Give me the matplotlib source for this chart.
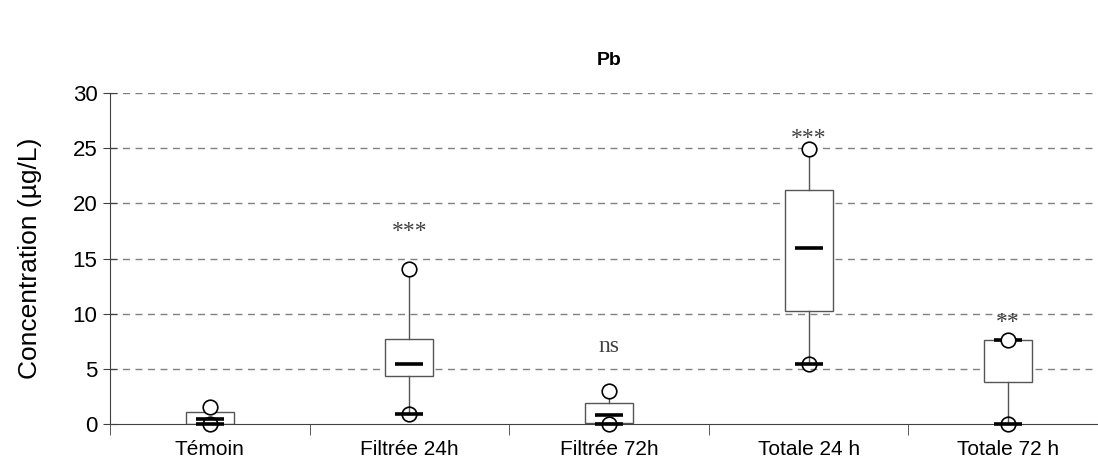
import numpy as np
import matplotlib
matplotlib.use("Agg")
import matplotlib.pyplot as plt

plt.rcParams['font.family'] = ['Liberation Sans', 'DejaVu Sans']

# Pb concentrations (µg/L) per treatment
groupes = ['Témoin', 'Filtrée 24h', 'Filtrée 72h', 'Totale 24 h', 'Totale 72 h']
minimum = [0.0, 0.9, 0.0, 5.5, 0.0]
q1 = [0.05, 4.35, 0.1, 10.25, 3.8]
mediane = [0.5, 5.5, 0.85, 15.95, 7.6]
q3 = [1.1, 7.7, 1.95, 21.2, 7.6]
maximum = [1.55, 14.1, 3.05, 24.9, 7.6]
signif = ['', '***', 'ns', '***', '**']
signif_y = [None, 17.5, 7.0, 25.9, 9.2]

pos = np.arange(len(groupes))

fig = plt.figure(figsize=(10.98, 4.73), dpi=100)
ax = fig.add_axes([110/1098, 48.7/473, 998/1098, 331.3/473])

# grille horizontale pointillée
for y in [5, 10, 15, 20, 25, 30]:
    ax.axhline(y, color='#808080', lw=1.0, ls=(0, (5, 4)), zorder=0)

stats = []
for i in range(len(groupes)):
    stats.append({'med': mediane[i], 'q1': q1[i], 'q3': q3[i],
                  'whislo': minimum[i], 'whishi': maximum[i], 'fliers': []})

ax.bxp(stats, positions=pos, widths=0.24, showcaps=False, patch_artist=True,
       boxprops=dict(facecolor='white', edgecolor='#555555', lw=1.0),
       whiskerprops=dict(color='#555555', lw=1.0),
       medianprops=dict(lw=0), zorder=2)

# traits épais : médiane et minimum
ax.hlines(mediane, pos - 0.07, pos + 0.07, colors='black', lw=2.6, zorder=3)
ax.hlines(minimum, pos - 0.07, pos + 0.07, colors='black', lw=2.6, zorder=3, clip_on=False)

# cercles min / max
ax.plot(pos, minimum, 'o', ms=10.5, mfc='none', mec='black', mew=1.2, zorder=4, clip_on=False)
ax.plot(pos, maximum, 'o', ms=10.5, mfc='white', mec='black', mew=1.2, zorder=4, clip_on=False)

for i, s in enumerate(signif):
    if s:
        ax.text(pos[i], signif_y[i], s, ha='center', va='center',
                family='Liberation Serif', fontsize=17, color='#404040')

ax.set_xlim(-0.5, 4.5)
ax.set_ylim(0, 30)
ax.set_yticks([0, 5, 10, 15, 20, 25, 30])
ax.set_xticks(pos)
ax.set_xticklabels(groupes, fontsize=15)
ax.set_xticks(np.arange(-0.5, 5.0, 1.0), minor=True)
ax.tick_params(axis='x', which='major', length=0, pad=11)
ax.tick_params(axis='x', which='minor', length=8, direction='out', color='#404040')
ax.tick_params(axis='y', length=10, direction='inout', labelsize=16, color='#404040', pad=4)
for s in ['top', 'right']:
    ax.spines[s].set_visible(False)
for s in ['left', 'bottom']:
    ax.spines[s].set_color('#404040')

ax.set_ylabel('Concentration (µg/L)', fontsize=19, labelpad=22)
ax.set_title('Pb', fontsize=14, fontweight='bold', pad=20)

fig.savefig('out.png', dpi=100)
